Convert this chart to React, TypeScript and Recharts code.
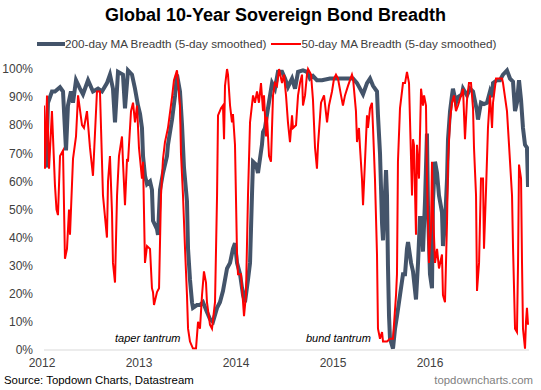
import React from 'react';
import { LineChart, Line, XAxis, YAxis } from 'recharts';

// [decimal year, % of markets above their moving average]
const breadth200: [number, number][] = [
  [2012.0, 68], [2012.021, 65], [2012.041, 88], [2012.082, 92], [2012.113, 92], [2012.165, 93.5],
  [2012.196, 92], [2012.227, 71], [2012.247, 87], [2012.278, 92], [2012.299, 88], [2012.33, 96],
  [2012.371, 93], [2012.402, 91], [2012.454, 96], [2012.505, 92], [2012.557, 93], [2012.598, 92],
  [2012.649, 95], [2012.68, 98], [2012.711, 93], [2012.732, 81], [2012.763, 99], [2012.814, 98],
  [2012.835, 86], [2012.866, 99.5], [2012.907, 98], [2012.938, 93], [2012.969, 87], [2012.99, 84],
  [2013.01, 79], [2013.021, 69], [2013.041, 62], [2013.062, 59], [2013.093, 60], [2013.113, 57],
  [2013.124, 46], [2013.165, 43], [2013.175, 41], [2013.196, 57], [2013.227, 63], [2013.268, 69],
  [2013.278, 73], [2013.32, 82], [2013.351, 90.6], [2013.371, 98], [2013.402, 92], [2013.423, 80],
  [2013.443, 65], [2013.474, 53], [2013.485, 36], [2013.505, 25], [2013.526, 17], [2013.536, 15],
  [2013.577, 16], [2013.608, 16], [2013.639, 17], [2013.68, 13.5], [2013.711, 11], [2013.742, 10],
  [2013.784, 15], [2013.814, 17], [2013.845, 21], [2013.887, 29], [2013.918, 31], [2013.948, 36],
  [2013.969, 38], [2013.99, 31], [2014.021, 27], [2014.052, 19.5], [2014.072, 17], [2014.103, 25],
  [2014.124, 31], [2014.134, 43], [2014.144, 55], [2014.155, 67], [2014.186, 66], [2014.206, 63],
  [2014.247, 73], [2014.258, 77.6], [2014.278, 79], [2014.309, 86], [2014.351, 95], [2014.381, 93],
  [2014.412, 99], [2014.454, 99], [2014.485, 96.6], [2014.515, 93.6], [2014.557, 96.6], [2014.588, 93],
  [2014.619, 99], [2014.67, 99.5], [2014.711, 99], [2014.742, 96.6], [2014.773, 97.5], [2014.814, 96],
  [2014.866, 96], [2014.948, 96.6], [2015.052, 96.6], [2015.186, 96.6], [2015.227, 95], [2015.258, 93],
  [2015.289, 91], [2015.33, 95], [2015.361, 96.6], [2015.392, 94], [2015.433, 92], [2015.443, 83.5],
  [2015.464, 70], [2015.485, 45], [2015.495, 39], [2015.515, 55], [2015.526, 64], [2015.536, 55],
  [2015.546, 30], [2015.557, 12], [2015.567, 4], [2015.598, 0.5], [2015.619, 7.6], [2015.639, 12],
  [2015.67, 19.5], [2015.701, 27], [2015.722, 27], [2015.742, 36], [2015.753, 38.4], [2015.784, 31],
  [2015.804, 28], [2015.835, 18], [2015.856, 31], [2015.876, 47], [2015.897, 47], [2015.907, 35],
  [2015.928, 53], [2015.948, 77], [2015.959, 50], [2015.979, 27], [2016.0, 22], [2016.01, 53],
  [2016.031, 67], [2016.052, 63], [2016.072, 55], [2016.103, 49], [2016.113, 37], [2016.134, 45],
  [2016.155, 61], [2016.165, 75], [2016.186, 85], [2016.206, 90.6], [2016.216, 93], [2016.247, 88],
  [2016.268, 90], [2016.309, 91], [2016.32, 93], [2016.361, 90.6], [2016.392, 93], [2016.423, 92],
  [2016.464, 85], [2016.474, 82], [2016.505, 88], [2016.536, 87.5], [2016.567, 88], [2016.598, 92],
  [2016.619, 90], [2016.629, 95], [2016.67, 96], [2016.701, 96], [2016.732, 98], [2016.773, 99.5],
  [2016.804, 96.6], [2016.835, 95.5], [2016.856, 85], [2016.876, 88], [2016.897, 96], [2016.918, 89],
  [2016.938, 79], [2016.959, 73], [2016.979, 72], [2016.99, 58],
];

const breadth50: [number, number][] = [
  [2012.0, 87], [2012.01, 64.5], [2012.031, 90.6], [2012.052, 64.5], [2012.082, 85], [2012.113, 58.6],
  [2012.129, 50], [2012.144, 48], [2012.165, 69], [2012.196, 71], [2012.216, 32.5], [2012.237, 36],
  [2012.258, 50], [2012.268, 41], [2012.299, 68], [2012.33, 76], [2012.351, 90.6], [2012.392, 80],
  [2012.412, 79], [2012.443, 85], [2012.474, 72], [2012.505, 62], [2012.546, 92], [2012.577, 92],
  [2012.608, 55], [2012.649, 40], [2012.66, 60], [2012.68, 69], [2012.701, 49], [2012.711, 31],
  [2012.732, 24], [2012.753, 55], [2012.773, 69], [2012.804, 76], [2012.814, 67], [2012.835, 51.5],
  [2012.856, 68], [2012.866, 67], [2012.897, 85], [2012.918, 88], [2012.938, 81], [2012.959, 87],
  [2012.979, 72], [2013.01, 61], [2013.021, 67], [2013.041, 31], [2013.062, 37], [2013.093, 36],
  [2013.113, 22], [2013.124, 20.6], [2013.134, 16], [2013.165, 20.6], [2013.186, 22], [2013.206, 55],
  [2013.227, 68], [2013.247, 74], [2013.278, 79], [2013.32, 90], [2013.34, 96], [2013.371, 99.5],
  [2013.402, 87], [2013.412, 70], [2013.433, 55], [2013.454, 36], [2013.474, 19.5], [2013.485, 7.6],
  [2013.505, 3], [2013.536, 0.5], [2013.567, 0.5], [2013.588, 10], [2013.608, 7.6], [2013.629, 19.5],
  [2013.649, 28], [2013.67, 24], [2013.68, 17], [2013.711, 9], [2013.732, 7.6], [2013.763, 17],
  [2013.784, 55], [2013.794, 83.5], [2013.825, 86], [2013.845, 87], [2013.856, 75], [2013.866, 94],
  [2013.887, 100], [2013.897, 98], [2013.918, 87], [2013.938, 81], [2013.948, 84], [2013.969, 73],
  [2013.99, 34], [2014.0, 27], [2014.031, 27], [2014.052, 17], [2014.062, 12], [2014.082, 19.5],
  [2014.103, 55], [2014.124, 81], [2014.155, 90.6], [2014.175, 88], [2014.196, 92], [2014.216, 88],
  [2014.237, 95], [2014.258, 85], [2014.268, 90.6], [2014.289, 76], [2014.299, 83], [2014.32, 69],
  [2014.34, 67], [2014.361, 90.6], [2014.381, 95], [2014.402, 94], [2014.423, 100], [2014.454, 95],
  [2014.474, 98], [2014.495, 90.6], [2014.515, 81], [2014.536, 74], [2014.557, 83.5], [2014.567, 79],
  [2014.598, 80], [2014.619, 90.6], [2014.639, 95], [2014.66, 98], [2014.67, 87], [2014.691, 90.6],
  [2014.711, 98], [2014.722, 100], [2014.753, 98], [2014.773, 89], [2014.794, 72], [2014.814, 64.5],
  [2014.825, 73], [2014.856, 88], [2014.887, 90.6], [2014.918, 81], [2014.938, 87], [2014.969, 92],
  [2014.99, 96.6], [2015.01, 98], [2015.031, 96.6], [2015.062, 90.6], [2015.082, 87], [2015.103, 90.6],
  [2015.134, 94], [2015.175, 98], [2015.186, 96.6], [2015.216, 85], [2015.227, 74], [2015.247, 79],
  [2015.258, 72], [2015.278, 61], [2015.289, 51.5], [2015.309, 67], [2015.33, 83.5], [2015.34, 79],
  [2015.361, 86], [2015.381, 88], [2015.392, 79], [2015.412, 61], [2015.433, 34], [2015.443, 7.6],
  [2015.464, 4], [2015.485, 6.4], [2015.495, 3], [2015.536, 3], [2015.567, 4], [2015.598, 4],
  [2015.629, 19.5], [2015.639, 27], [2015.649, 67], [2015.67, 86], [2015.701, 95], [2015.722, 95],
  [2015.742, 99], [2015.763, 95], [2015.794, 55], [2015.804, 75], [2015.814, 73], [2015.835, 41],
  [2015.845, 73], [2015.866, 61], [2015.887, 93], [2015.907, 87], [2015.918, 90.6], [2015.938, 87],
  [2015.948, 61], [2015.969, 31], [2015.99, 43], [2016.0, 67], [2016.01, 50], [2016.031, 31],
  [2016.052, 36], [2016.072, 29], [2016.103, 34], [2016.113, 19.5], [2016.134, 17], [2016.155, 45.6],
  [2016.165, 67], [2016.186, 82], [2016.206, 88], [2016.227, 90.6], [2016.247, 85], [2016.268, 87],
  [2016.299, 90.6], [2016.32, 93], [2016.34, 75], [2016.361, 89], [2016.381, 95], [2016.402, 95],
  [2016.423, 86], [2016.433, 72], [2016.454, 55], [2016.464, 21], [2016.485, 31], [2016.505, 61],
  [2016.526, 61], [2016.536, 36], [2016.557, 57], [2016.577, 79], [2016.598, 90.6], [2016.619, 79],
  [2016.629, 88], [2016.66, 96.6], [2016.722, 96.6], [2016.732, 95], [2016.773, 85], [2016.794, 73],
  [2016.825, 55], [2016.835, 37], [2016.856, 7.6], [2016.876, 6.4], [2016.887, 31], [2016.897, 66],
  [2016.918, 61], [2016.928, 31], [2016.938, 7.6], [2016.959, 0.5], [2016.969, 10], [2016.979, 15],
  [2016.99, 9],
];

const yearTicks = [2012, 2013, 2014, 2015, 2016];
const pctTicks = [0, 10, 20, 30, 40, 50, 60, 70, 80, 90, 100];

const GRAY = '#44546a';
const RED = '#ff0000';
const FONT = '"Liberation Sans", Arial, sans-serif';

const toRows = (pairs: [number, number][]) => pairs.map(([t, v]) => ({ t, v }));

const App: React.FC = () => {
  const tick = { fill: '#404040', fontSize: 12, fontFamily: FONT };
  return (
    <div style={{ position: 'absolute', left: 0, top: 0, width: 541, height: 390, background: '#fff', fontFamily: FONT }}>
      <div style={{ position: 'absolute', top: 5, width: 541, left: 5, textAlign: 'center', fontSize: 18, fontWeight: 'bold', color: '#000' }}>
        Global 10-Year Sovereign Bond Breadth
      </div>

      <div style={{ position: 'absolute', top: 37, left: 37, display: 'flex', alignItems: 'center', fontSize: 11.7, color: '#404040', whiteSpace: 'nowrap' }}>
        <span style={{ display: 'inline-block', width: 28, height: 4, background: GRAY }} />
        <span style={{ marginRight: 5 }}>200-day MA Breadth (5-day smoothed)</span>
        <span style={{ display: 'inline-block', width: 30, height: 2, background: RED }} />
        <span>50-day MA Breadth (5-day smoothed)</span>
      </div>

      <LineChart width={541} height={390} margin={{ top: 69, right: 12, bottom: 20, left: 0 }}>
        <XAxis
          type="number"
          dataKey="t"
          domain={[2012, 2017]}
          ticks={yearTicks}
          allowDataOverflow
          tickLine={false}
          tickSize={0}
          tickMargin={8}
          height={20}
          stroke="#d9d9d9"
          tick={{ ...tick, dx: -2 }}
        />
        <YAxis
          type="number"
          domain={[0, 100]}
          ticks={pctTicks}
          tickFormatter={(v: number) => `${v}%`}
          axisLine={false}
          tickLine={false}
          tickSize={0}
          tickMargin={11}
          width={44}
          tick={tick}
        />
        <Line data={toRows(breadth200)} dataKey="v" type="linear" stroke={GRAY} strokeWidth={4} dot={false} isAnimationActive={false} />
        <Line data={toRows(breadth50)} dataKey="v" type="linear" stroke={RED} strokeWidth={2} dot={false} isAnimationActive={false} />
      </LineChart>

      <div style={{ position: 'absolute', left: 115, top: 332, fontSize: 11, fontStyle: 'italic', color: '#000' }}>taper tantrum</div>
      <div style={{ position: 'absolute', left: 306, top: 332, fontSize: 11, fontStyle: 'italic', color: '#000' }}>bund tantrum</div>

      <div style={{ position: 'absolute', left: 4, top: 374, fontSize: 11.4, color: '#000' }}>Source: Topdown Charts, Datastream</div>
      <div style={{ position: 'absolute', right: 8, top: 374, fontSize: 11.4, color: '#7f7f7f' }}>topdowncharts.com</div>
    </div>
  );
};

export default App;
